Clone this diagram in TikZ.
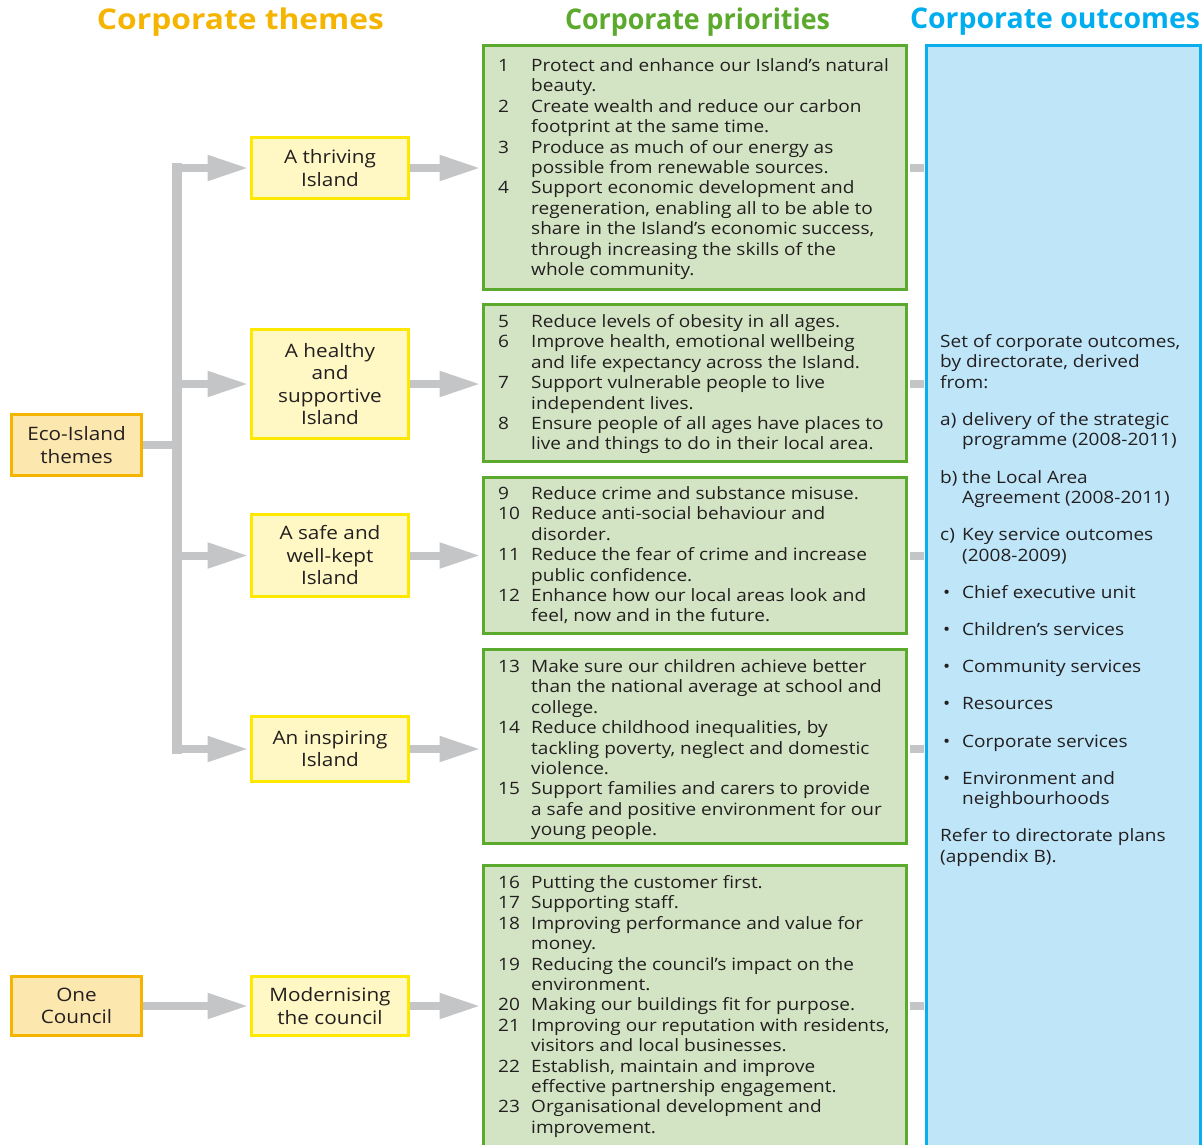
\documentclass[tikz,border=0pt]{standalone}
\usepackage{fontspec}
\setmainfont{Open Sans}[FakeStretch=1.12]
\usepackage{array}
\usepackage{graphicx}
\usetikzlibrary{arrows.meta}
\definecolor{gbar}{HTML}{C4C5C7}
\definecolor{hdorange}{HTML}{F5B400}
\definecolor{hdgreen}{HTML}{5BAA2E}
\definecolor{hdblue}{HTML}{00AEEF}
\definecolor{ecofill}{HTML}{FCE8AF}
\definecolor{ecoline}{HTML}{F5B400}
\definecolor{yfill}{HTML}{FFF8C4}
\definecolor{yline}{HTML}{FFE800}
\definecolor{gfill}{HTML}{D3E4C4}
\definecolor{gline}{HTML}{5BAA2E}
\definecolor{bfill}{HTML}{BEE5F8}
\definecolor{bline}{HTML}{0AAEEF}
\definecolor{txt}{HTML}{231F20}
\newcommand{\bodyfont}{\fontsize{17}{20.4}\selectfont}
\newcommand{\hdfit}[2]{\resizebox{#1}{\height}{#2}}
\begin{document}
\begin{tikzpicture}[x=1pt,y=-1pt,
  header/.style={font=\fontsize{28.5}{32}\selectfont\bfseries, inner sep=0pt},
  ecobox/.style={draw=ecoline, fill=ecofill, line width=3pt, text=txt, align=center,
    font=\fontsize{18.5}{22.5}\selectfont, minimum width=130pt, inner sep=0pt},
  ybox/.style={draw=yline, fill=yfill, line width=3pt, text=txt, align=center,
    font=\fontsize{18.5}{22.5}\selectfont, minimum width=157pt, inner sep=0pt},
  gbox/.style={draw=gline, fill=gfill, line width=3pt, minimum width=423pt, inner sep=0pt},
  obox/.style={draw=bline, fill=bfill, line width=3pt, minimum width=274pt, inner sep=0pt},
  listtext/.style={anchor=north west, inner sep=0pt, text=txt, font=\bodyfont},
  conn/.style={draw=gbar, line width=8pt},
  garrow/.style={conn, -{Triangle[length=41pt,width=24pt]}},
]
\useasboundingbox (0,0) rectangle (1204,1144);
\clip (0,0) rectangle (1204,1144);

% headers
\node[header, text=hdorange] (h1) at (240.5,22) {\hdfit{287pt}{Corporate themes}};
\node[header, text=hdgreen] (h2) at (697.5,22) {\hdfit{265pt}{Corporate priorities}};
\node[header, text=hdblue] (h3) at (1055,22) {\hdfit{290pt}{Corporate outcomes}};

% outcomes box (behind)
\node[obox, minimum height=1113pt] (out) at (1063.5,602) {};

% priority boxes
\node[gbox, minimum height=244pt] (p1) at (695,167.5) {};
\node[gbox, minimum height=157pt] (p2) at (695,383) {};
\node[gbox, minimum height=156pt] (p3) at (695,555.5) {};
\node[gbox, minimum height=194pt] (p4) at (695,746.5) {};
\node[gbox, minimum height=293pt] (p5) at (695,1012) {};

% left boxes
\node[ecobox, minimum height=61pt] (eco) at (76.5,445) {Eco-Island\\themes};
\node[ecobox, minimum height=59pt] (one) at (76.5,1006) {One\\Council};

% theme boxes
\node[ybox, minimum height=61pt] (thr) at (330,168) {A thriving\\Island};
\node[ybox, minimum height=109pt] (hea) at (330,384) {A healthy\\and\\supportive\\Island};
\node[ybox, minimum height=82pt] (saf) at (330,555.5) {A safe and\\well-kept\\Island};
\node[ybox, minimum height=65pt] (ins) at (330,749) {An inspiring\\Island};
\node[ybox, minimum height=59pt] (mod) at (330,1006) {Modernising\\the council};

% trunk
\coordinate (trTop) at (177,168);
\coordinate (trBot) at (177,749);
\coordinate (trL) at (172,0);
\draw[draw=gbar, line width=10pt, line cap=rect] (trTop) -- (trBot);
\draw[conn] (eco.east) -- (eco.east -| trL);
\draw[garrow] (thr.west -| trL) -- ([xshift=-1.5pt]thr.west);
\draw[garrow] (hea.west -| trL) -- ([xshift=-1.5pt]hea.west);
\draw[garrow] (saf.west -| trL) -- ([xshift=-1.5pt]saf.west);
\draw[garrow] (ins.west -| trL) -- ([xshift=-1.5pt]ins.west);
\draw[garrow] (one.east) -- ([xshift=-1.5pt]mod.west);

% theme -> priority arrows
\draw[garrow] (thr.east) -- ([xshift=-1.5pt]thr.east -| p1.west);
\draw[garrow] (hea.east) -- ([xshift=-1.5pt]hea.east -| p2.west);
\draw[garrow] (saf.east) -- ([xshift=-1.5pt]saf.east -| p3.west);
\draw[garrow] (ins.east) -- ([xshift=-1.5pt]ins.east -| p4.west);
\draw[garrow] (mod.east) -- ([xshift=-1.5pt]mod.east -| p5.west);

% priority -> outcome stubs
\draw[conn] ([xshift=1.5pt]thr.east -| p1.east) -- ([xshift=-1.5pt]thr.east -| out.west);
\draw[conn] ([xshift=1.5pt]hea.east -| p2.east) -- ([xshift=-1.5pt]hea.east -| out.west);
\draw[conn] ([xshift=1.5pt]saf.east -| p3.east) -- ([xshift=-1.5pt]saf.east -| out.west);
\draw[conn] ([xshift=1.5pt]ins.east -| p4.east) -- ([xshift=-1.5pt]ins.east -| out.west);
\draw[conn] ([xshift=1.5pt]mod.east -| p5.east) -- ([xshift=-1.5pt]mod.east -| out.west);

% priority texts
\node[listtext] (t1) at (498,57) {\begin{tabular}{@{}p{33pt}@{}l@{}}
1 & Protect and enhance our Island’s natural\\
  & beauty.\\
2 & Create wealth and reduce our carbon\\
  & footprint at the same time.\\
3 & Produce as much of our energy as\\
  & possible from renewable sources.\\
4 & Support economic development and\\
  & regeneration, enabling all to be able to\\
  & share in the Island’s economic success,\\
  & through increasing the skills of the\\
  & whole community.
\end{tabular}};
\node[listtext] (t2) at (498,313) {\begin{tabular}{@{}p{33pt}@{}l@{}}
5 & Reduce levels of obesity in all ages.\\
6 & Improve health, emotional wellbeing\\
  & and life expectancy across the Island.\\
7 & Support vulnerable people to live\\
  & independent lives.\\
8 & Ensure people of all ages have places to\\
  & live and things to do in their local area.
\end{tabular}};
\node[listtext] (t3) at (498,485) {\begin{tabular}{@{}p{33pt}@{}l@{}}
9 & Reduce crime and substance misuse.\\
10 & Reduce anti-social behaviour and\\
  & disorder.\\
11 & Reduce the fear of crime and increase\\
  & public confidence.\\
12 & Enhance how our local areas look and\\
  & feel, now and in the future.
\end{tabular}};
\node[listtext] (t4) at (498,658) {\begin{tabular}{@{}p{33pt}@{}l@{}}
13 & Make sure our children achieve better\\
  & than the national average at school and\\
  & college.\\
14 & Reduce childhood inequalities, by\\
  & tackling poverty, neglect and domestic\\
  & violence.\\
15 & Support families and carers to provide\\
  & a safe and positive environment for our\\
  & young people.
\end{tabular}};
\node[listtext] (t5) at (498,874) {\begin{tabular}{@{}p{33pt}@{}l@{}}
16 & Putting the customer first.\\
17 & Supporting staff.\\
18 & Improving performance and value for\\
  & money.\\
19 & Reducing the council’s impact on the\\
  & environment.\\
20 & Making our buildings fit for purpose.\\
21 & Improving our reputation with residents,\\
  & visitors and local businesses.\\
22 & Establish, maintain and improve\\
  & effective partnership engagement.\\
23 & Organisational development and\\
  & improvement.
\end{tabular}};

% outcomes text
\node[listtext] (ot) at (940,333) {\begin{tabular}{@{}p{22pt}@{}l@{}}
\multicolumn{2}{@{}l@{}}{Set of corporate outcomes,}\\
\multicolumn{2}{@{}l@{}}{by directorate, derived}\\
\multicolumn{2}{@{}l@{}}{from:}\\[16.8pt]
a) & delivery of the strategic\\
   & programme (2008-2011)\\[16.8pt]
b) & the Local Area\\
   & Agreement (2008-2011)\\[16.8pt]
c) & Key service outcomes\\
   & (2008-2009)\\[16.8pt]
\hspace{3pt}\textbullet & Chief executive unit\\[16.8pt]
\hspace{3pt}\textbullet & Children’s services\\[16.8pt]
\hspace{3pt}\textbullet & Community services\\[16.8pt]
\hspace{3pt}\textbullet & Resources\\[16.8pt]
\hspace{3pt}\textbullet & Corporate services\\[16.8pt]
\hspace{3pt}\textbullet & Environment and\\
   & neighbourhoods\\[16.8pt]
\multicolumn{2}{@{}l@{}}{Refer to directorate plans}\\
\multicolumn{2}{@{}l@{}}{(appendix B).}
\end{tabular}};
\end{tikzpicture}
\end{document}
